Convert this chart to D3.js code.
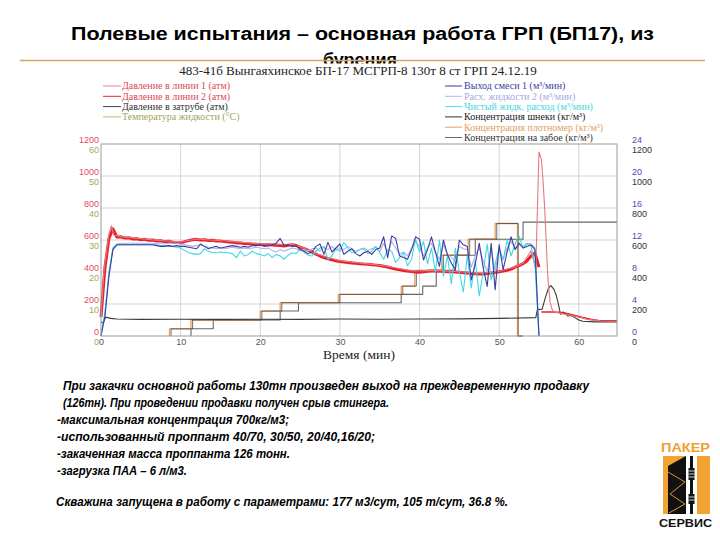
<!DOCTYPE html>
<html><head><meta charset="utf-8">
<script src="https://cdn.jsdelivr.net/npm/d3@7"></script>
<style>body{margin:0;background:#fff}svg{display:block}</style>
</head><body><svg id="c" width="720" height="540"></svg>
<script>
// ---------------- DATA ----------------
const titleLine1 = "Полевые испытания – основная работа ГРП (БП17), из";
const titleLine2 = "бурения";
const chartTitle = "483-41б Вынгаяхинское БП-17 МСГРП-8  130т 8 ст ГРП 24.12.19";
const xAxisTitle = "Время (мин)";
const xTicks = [0, 10, 20, 30, 40, 50, 60];
const pressureTicks = [0, 200, 400, 600, 800, 1000, 1200];
const tempTicks = [0, 10, 20, 30, 40, 50, 60];
const rateTicks = [0, 4, 8, 12, 16, 20, 24];
const concTicks = [0, 200, 400, 600, 800, 1000, 1200];

const legendLeftLabels = ["Давление в линии 1 (атм)", "Давление в линии 2  (атм)", "Давление в затрубе  (атм)", "Температура жидкости (°С)"];
const legendLeftLine = ["#e98585", "#e8262e", "#444444", "#b5b56e"];
const legendLeftText = ["#d94a55", "#d94a55", "#333333", "#a3a35a"];
const legendRightLabels = ["Выход смеси 1 (м³/мин)", "Расх. жидкости 2 (м³/мин)", "Чистый жидк. расход (м³/мин)", "Концентрация шнеки (кг/м³)", "Концентрация плотномер (кг/м³)", "Концентрация на забое (кг/м³)"];
const legendRightLine = ["#3c3c9c", "#b4b4ee", "#46e0e6", "#333333", "#e8a060", "#666666"];
const legendRightText = ["#3c3c9c", "#a8a8e0", "#3fd6dc", "#222222", "#e0a060", "#333333"];

// time grid for the sampled (noisy) series, minutes 0 .. 55 every 0.5
const minutesGrid = d3.range(0, 55.001, 0.5);

// Давление в линии 2 (атм), on minutesGrid
const line2Pressure = [120,430,610,670,618,620,612,614,606,608,602,604,598,600,594,595,590,592,586,585,
582,590,596,602,604,600,601,597,599,594,593,590,588,586,582,581,578,577,575,574,
572,571,570,568,567,565,563,567,571,566,556,546,536,524,512,500,490,482,476,470,
466,463,459,456,455,452,450,449,446,443,440,436,431,424,418,414,410,406,403,400,
399,402,404,406,407,405,404,402,401,400,398,396,394,391,389,387,388,390,394,398,
402,406,411,418,430,440,452,470,500,520,430];
const line2TailT = [55.3, 56.8, 57.5, 58.5, 59.5, 60.5, 61.5, 62.5, 64.8];
const line2TailV = [150, 150, 148, 140, 128, 115, 104, 97, 95];

// Давление в линии 1 (атм)
const line1T = [0,0.4,1.0,1.3,1.6,3,7,10,12,16,20,24,25,27,30,33,36,39,42,45,48,50,52,53,54,54.6,55.0,55.3,55.5,55.7,55.9,56.1,56.4,56.7,57.3,58.2,59.4,61.1,62.8,64.8];
const line1V = [120,420,640,690,630,618,598,588,606,592,576,572,560,515,470,454,436,406,410,402,392,405,432,455,532,417,1150,1105,980,815,605,376,210,158,146,136,125,104,94,92];

// Давление в затрубе (атм)
const annulusT = [0,0.3,0.6,1.2,2,5,10,15,20,25,30,35,40,45,50,54.6,54.8,55.4,55.8,56.2,56.5,56.9,57.2,57.5,57.7,58.0,58.3,58.6,59.0,59.4,60.0,60.5,62,64.8];
const annulusV = [85,85,118,110,106,104,105,104,105,104,106,105,106,107,110,115,165,168,240,300,315,290,250,185,136,150,142,125,128,118,100,92,88,88];

// Выход смеси 1 (м³/мин), on minutesGrid
const rateMix1 = [0,2.5,7.5,10.8,11.4,11.4,11.4,11.4,11.4,11.4,11.4,11.4,11.4,11.4,11.3,11.2,11.2,11.3,11.2,11.3,
11.2,11.2,11.1,11.0,10.9,11.5,11.2,10.9,11.1,11.2,11.0,11.1,11.2,11.3,11.2,11.1,11.2,11.1,11.3,11.3,
11.4,11.2,11.3,11.4,11.6,12.2,11.3,11.4,11.2,11.3,10.8,10.6,10.3,10.5,11.2,11.5,10.2,11.7,10.5,11.0,
11.5,10.2,10.6,10.9,10.3,10.0,10.4,10.6,10.2,10.8,11.0,12.4,9.8,12.5,12.2,10.0,9.8,9.6,10.8,12.4,
12.1,9.5,10.8,12.4,10.5,8.7,12.0,10.2,9.1,8.3,12.0,11.4,11.2,7.0,9.0,11.6,8.5,6.2,11.6,5.8,
11.4,8.3,10.5,12.4,10.8,11.6,11.0,11.2,11.4,10.8,0];

// Расх. жидкости 2 (м³/мин), on minutesGrid
const rateFluid2 = [0,2.8,7.8,11.0,11.5,11.6,11.6,11.6,11.6,11.6,11.6,11.6,11.6,11.6,11.6,11.6,11.5,11.6,11.6,11.6,
11.5,11.4,11.3,11.2,11.3,11.4,11.2,11.1,11.0,10.9,11.0,10.9,11.0,11.1,11.0,10.9,11.0,10.9,11.0,11.1,
11.0,10.9,11.0,10.7,10.5,10.8,10.6,10.8,11.0,10.9,10.7,10.8,10.6,10.9,11.0,10.6,11.1,10.8,11.2,10.7,
11.0,10.8,11.2,10.9,10.6,10.8,11.0,10.7,10.9,11.1,10.5,11.6,10.4,11.8,11.0,10.2,10.5,10.0,11.0,11.8,
11.2,10.0,11.0,11.6,10.4,9.6,11.4,10.2,9.8,9.4,11.2,10.9,10.8,8.6,10.0,11.0,9.4,8.0,10.8,8.2,
10.8,9.6,11.0,11.8,11.0,11.4,11.2,11.6,11.5,11.0,0];

// Чистый жидк. расход (м³/мин), on minutesGrid
const rateClean = [0,3.0,8.0,11.0,11.4,11.4,11.4,11.4,11.4,11.4,11.4,11.4,11.4,11.4,11.4,11.3,11.3,11.2,11.2,11.1,
11.0,10.7,10.4,10.3,10.2,10.3,10.9,10.6,10.4,10.4,10.5,10.4,10.4,10.3,9.8,10.6,10.0,10.2,10.6,10.3,
10.2,10.0,10.3,9.8,10.2,10.0,9.6,10.1,10.4,10.3,10.8,10.5,10.1,10.0,10.6,11.0,11.2,9.6,10.0,10.9,
10.6,11.7,11.0,10.4,10.5,10.8,10.9,10.3,10.6,11.2,10.4,9.6,10.8,10.6,9.2,9.8,10.4,8.8,9.6,12.1,
10.5,11.8,9.0,11.0,8.0,12.0,7.5,10.0,6.5,11.0,8.0,5.5,10.0,6.0,9.5,5.0,8.0,11.5,7.0,9.0,
11.0,9.5,12.0,10.0,11.5,12.5,11.0,11.5,11.2,9.0,0];

// Концентрация плотномер (кг/м³) – step series
const densT = [8.6, 8.6, 11.3, 20.0, 22.5, 29.8, 37.7, 39.4, 42.8, 46.1, 49.5, 52.3, 53.0];
const densV = [0,   45,  100,  156,  208,  260,  312,  410,  505,  605,  703,  0,    0];
// Концентрация шнеки (кг/м³) – step series
const augerT = [8.8, 8.8, 11.5, 20.2, 22.7, 30.0, 37.9, 39.6, 43.0, 46.3, 49.7, 52.4, 53.0];
const augerV = [0,   45,  100,  156,  208,  260,  312,  410,  505,  605,  703,  0,    0];
// Концентрация на забое (кг/м³) – step series
const bottomT = [11.3, 11.3, 14.1, 22.5, 24.8, 37.7, 40.4, 42.1, 44.5, 47.0, 53.0, 64.8];
const bottomV = [0,    45,   100,  156,  208,  260,  312,  410,  505,  605,  712,  712];

const noteLines = [
  "При закачки основной работы 130тн произведен выход на преждевременную продавку",
  "(126тн). При проведении продавки получен срыв стингера.",
  "-максимальная концентрация 700кг/м3;",
  "-использованный проппант 40/70, 30/50, 20/40,16/20;",
  "-закаченная масса проппанта 126 тонн.",
  "-загрузка ПАА – 6 л/м3."
];
const noteFinal = "Скважина запущена в работу с параметрами: 177 м3/сут, 105 т/сут, 36.8 %.";

// ---------------- DRAW ----------------
const svg = d3.select("#c");
const L = 101, R = 617, T = 144, B = 336;
const x = d3.scaleLinear().domain([0, 64.8]).range([L, R]);
const yP = d3.scaleLinear().domain([0, 1200]).range([B, T]);
const yT = d3.scaleLinear().domain([0, 60]).range([B, T]);
const yQ = d3.scaleLinear().domain([0, 24]).range([B, T]);
const yC = d3.scaleLinear().domain([0, 1200]).range([B, T]);
const fmt = d3.format("d");

// slide title
svg.append("text").attr("x", 71).attr("y", 39.5).attr("textLength", 583).attr("lengthAdjust", "spacingAndGlyphs")
  .style("font", "bold 18px 'Liberation Sans', Arial, sans-serif").attr("fill", "#000").text(titleLine1);
svg.append("text").attr("x", 360).attr("y", 66).attr("text-anchor", "middle")
  .style("font", "bold 18px 'Liberation Sans', Arial, sans-serif").attr("fill", "#000").text(titleLine2);
svg.append("line").attr("x1", 20).attr("x2", 705).attr("y1", 60.5).attr("y2", 60.5)
  .attr("stroke", "#d9a55a").attr("stroke-width", 1.5);
// chart picture background (covers lower part of title line 2)
svg.append("rect").attr("x", 60).attr("y", 63.5).attr("width", 600).attr("height", 300).attr("fill", "#fff");

svg.append("text").attr("x", 358).attr("y", 74.5).attr("text-anchor", "middle")
  .style("font", "13px 'Liberation Serif', 'Times New Roman', serif").attr("fill", "#222").text(chartTitle);

// legends
const rowY = i => 86 + i * 10.3;
const lg = svg.append("g").style("font", "10px 'Liberation Serif', 'Times New Roman', serif");
legendLeftLabels.forEach((s, i) => {
  lg.append("line").attr("x1", 103).attr("x2", 121).attr("y1", rowY(i)).attr("y2", rowY(i)).attr("stroke", legendLeftLine[i]).attr("stroke-width", 1);
  lg.append("text").attr("x", 122).attr("y", rowY(i) + 3.3).attr("fill", legendLeftText[i]).text(s);
});
legendRightLabels.forEach((s, i) => {
  lg.append("line").attr("x1", 445).attr("x2", 462).attr("y1", rowY(i)).attr("y2", rowY(i)).attr("stroke", legendRightLine[i]).attr("stroke-width", 1);
  lg.append("text").attr("x", 464).attr("y", rowY(i) + 3.3).attr("fill", legendRightText[i]).text(s);
});

// grid + frame
const grid = svg.append("g");
grid.selectAll(".vg").data(xTicks.slice(1)).join("line")
  .attr("x1", d => x(d)).attr("x2", d => x(d)).attr("y1", T).attr("y2", B).attr("stroke", "#d4d4d4").attr("stroke-width", 1);
grid.selectAll(".hg").data(pressureTicks.slice(1, -1)).join("line")
  .attr("x1", L).attr("x2", R).attr("y1", d => yP(d)).attr("y2", d => yP(d)).attr("stroke", "#d4d4d4").attr("stroke-width", 1);

// axes labels
const tickFont = "9px 'Liberation Sans', Arial, sans-serif";
function styleAxis(g, color, dy) {
  g.select(".domain").remove();
  g.selectAll("text").attr("fill", color).attr("dy", dy).style("font", tickFont);
}
svg.append("g").attr("transform", `translate(${L - 1},0)`)
  .call(d3.axisLeft(yP).tickValues(pressureTicks).tickFormat(fmt).tickSize(0).tickPadding(1))
  .call(g => styleAxis(g, "#e0505c", "-0.12em"));
svg.append("g").attr("transform", `translate(${L - 1},0)`)
  .call(d3.axisLeft(yT).tickValues(tempTicks).tickFormat(fmt).tickSize(0).tickPadding(1))
  .call(g => styleAxis(g, "#a6a65c", "0.95em"));
svg.append("g").attr("transform", `translate(${R + 15},0)`)
  .call(d3.axisRight(yQ).tickValues(rateTicks).tickFormat(fmt).tickSize(0).tickPadding(0))
  .call(g => styleAxis(g, "#4a4ab4", "-0.12em"));
svg.append("g").attr("transform", `translate(${R + 15},0)`)
  .call(d3.axisRight(yC).tickValues(concTicks).tickFormat(fmt).tickSize(0).tickPadding(0))
  .call(g => styleAxis(g, "#333", "0.95em"));
svg.append("g").attr("transform", `translate(0,${B + 2})`)
  .call(d3.axisBottom(x).tickValues(xTicks).tickFormat(fmt).tickSize(0).tickPadding(1))
  .call(g => styleAxis(g, "#555", "0.71em"));
svg.append("text").attr("x", 359).attr("y", 358.5).attr("text-anchor", "middle")
  .style("font", "13.5px 'Liberation Serif', 'Times New Roman', serif").attr("fill", "#222").text(xAxisTitle);

// series
const plot = svg.append("g");
const lineGen = (ys) => d3.line().x(d => x(d[0])).y(d => ys(d[1]));
const stepGen = (ys) => d3.line().x(d => x(d[0])).y(d => ys(d[1])).curve(d3.curveStepAfter);
const zip = (ts, vs) => ts.map((t, i) => [t, vs[i]]);

function path(data, gen, color, w, op) {
  plot.append("path").datum(data).attr("d", gen).attr("fill", "none")
    .attr("stroke", color).attr("stroke-width", w).attr("stroke-linejoin", "round").attr("opacity", op || 1);
}
// steps (concentrations)
path(zip(bottomT, bottomV), stepGen(yC), "#666666", 1.1);
path(zip(densT, densV), stepGen(yC), "#e8a060", 1.3);
path(zip(augerT, augerV), stepGen(yC), "#3a3a3a", 0.9, 0.8);
// annulus
path(zip(annulusT, annulusV), lineGen(yP), "#3a3a3a", 1.1);
// line pressures
path(zip(minutesGrid, line2Pressure), lineGen(yP), "#e8202a", 3);
path(zip(line2TailT, line2TailV), lineGen(yP), "#e8202a", 1.6);
path(zip(line1T, line1V), lineGen(yP), "#e47a80", 1.1);
// rates
path(zip(minutesGrid, rateFluid2), lineGen(yQ), "#aeaeec", 1.1);
path(zip(minutesGrid, rateClean), lineGen(yQ), "#3fd9e2", 1.1);
path(zip(minutesGrid, rateMix1), lineGen(yQ), "#3c3ca0", 1.1);

// frame
svg.append("rect").attr("x", L).attr("y", T).attr("width", R - L).attr("height", B - T)
  .attr("fill", "none").attr("stroke", "#9a9a9a").attr("stroke-width", 1);

// notes
const noteFont = "italic bold 12px 'Liberation Sans', Arial, sans-serif";
const noteX = [63, 63, 57, 57, 57, 57];
const noteW = [526, 326, 232, 318, 233, 130];
const noteY = [390, 406.5, 423.5, 440.5, 457.5, 474.5];
noteLines.forEach((s, i) => {
  svg.append("text").attr("x", noteX[i]).attr("y", noteY[i]).attr("textLength", noteW[i]).attr("lengthAdjust", "spacingAndGlyphs")
    .style("font", noteFont).attr("fill", "#000").text(s);
});
svg.append("text").attr("x", 56).attr("y", 505.5).attr("textLength", 452).attr("lengthAdjust", "spacingAndGlyphs")
  .style("font", noteFont).attr("fill", "#000").text(noteFinal);

// logo
const logo = svg.append("g");
logo.append("text").attr("x", 661).attr("y", 452).attr("textLength", 49).attr("lengthAdjust", "spacingAndGlyphs")
  .style("font", "bold 13px 'Liberation Sans', Arial, sans-serif").attr("fill", "#f0a030").text("ПАКЕР");
logo.append("rect").attr("x", 663).attr("y", 456).attr("width", 47).attr("height", 58).attr("fill", "#f3a334");
logo.append("polygon").attr("points", "668,466 686,456 686,514 668,514").attr("fill", "#111");
logo.append("polyline").attr("points", "668,472 685,482 670,494 685,504 669,513").attr("fill", "none").attr("stroke", "#f3a334").attr("stroke-width", 0.9);
logo.append("rect").attr("x", 686).attr("y", 456).attr("width", 11).attr("height", 58).attr("fill", "#fff");
logo.append("rect").attr("x", 690).attr("y", 456).attr("width", 3).attr("height", 58).attr("fill", "#111");
logo.append("rect").attr("x", 688.5).attr("y", 468).attr("width", 6).attr("height", 12).attr("fill", "#111");
logo.append("rect").attr("x", 688.5).attr("y", 494).attr("width", 6).attr("height", 10).attr("fill", "#111");
[471, 474, 477, 497, 500].forEach(yy => logo.append("line").attr("x1", 688.5).attr("x2", 694.5).attr("y1", yy).attr("y2", yy).attr("stroke", "#fff").attr("stroke-width", 0.8));
logo.append("text").attr("x", 659).attr("y", 527).attr("textLength", 53).attr("lengthAdjust", "spacingAndGlyphs")
  .style("font", "bold 11px 'Liberation Sans', Arial, sans-serif").attr("fill", "#111").text("СЕРВИС");
</script></body></html>
